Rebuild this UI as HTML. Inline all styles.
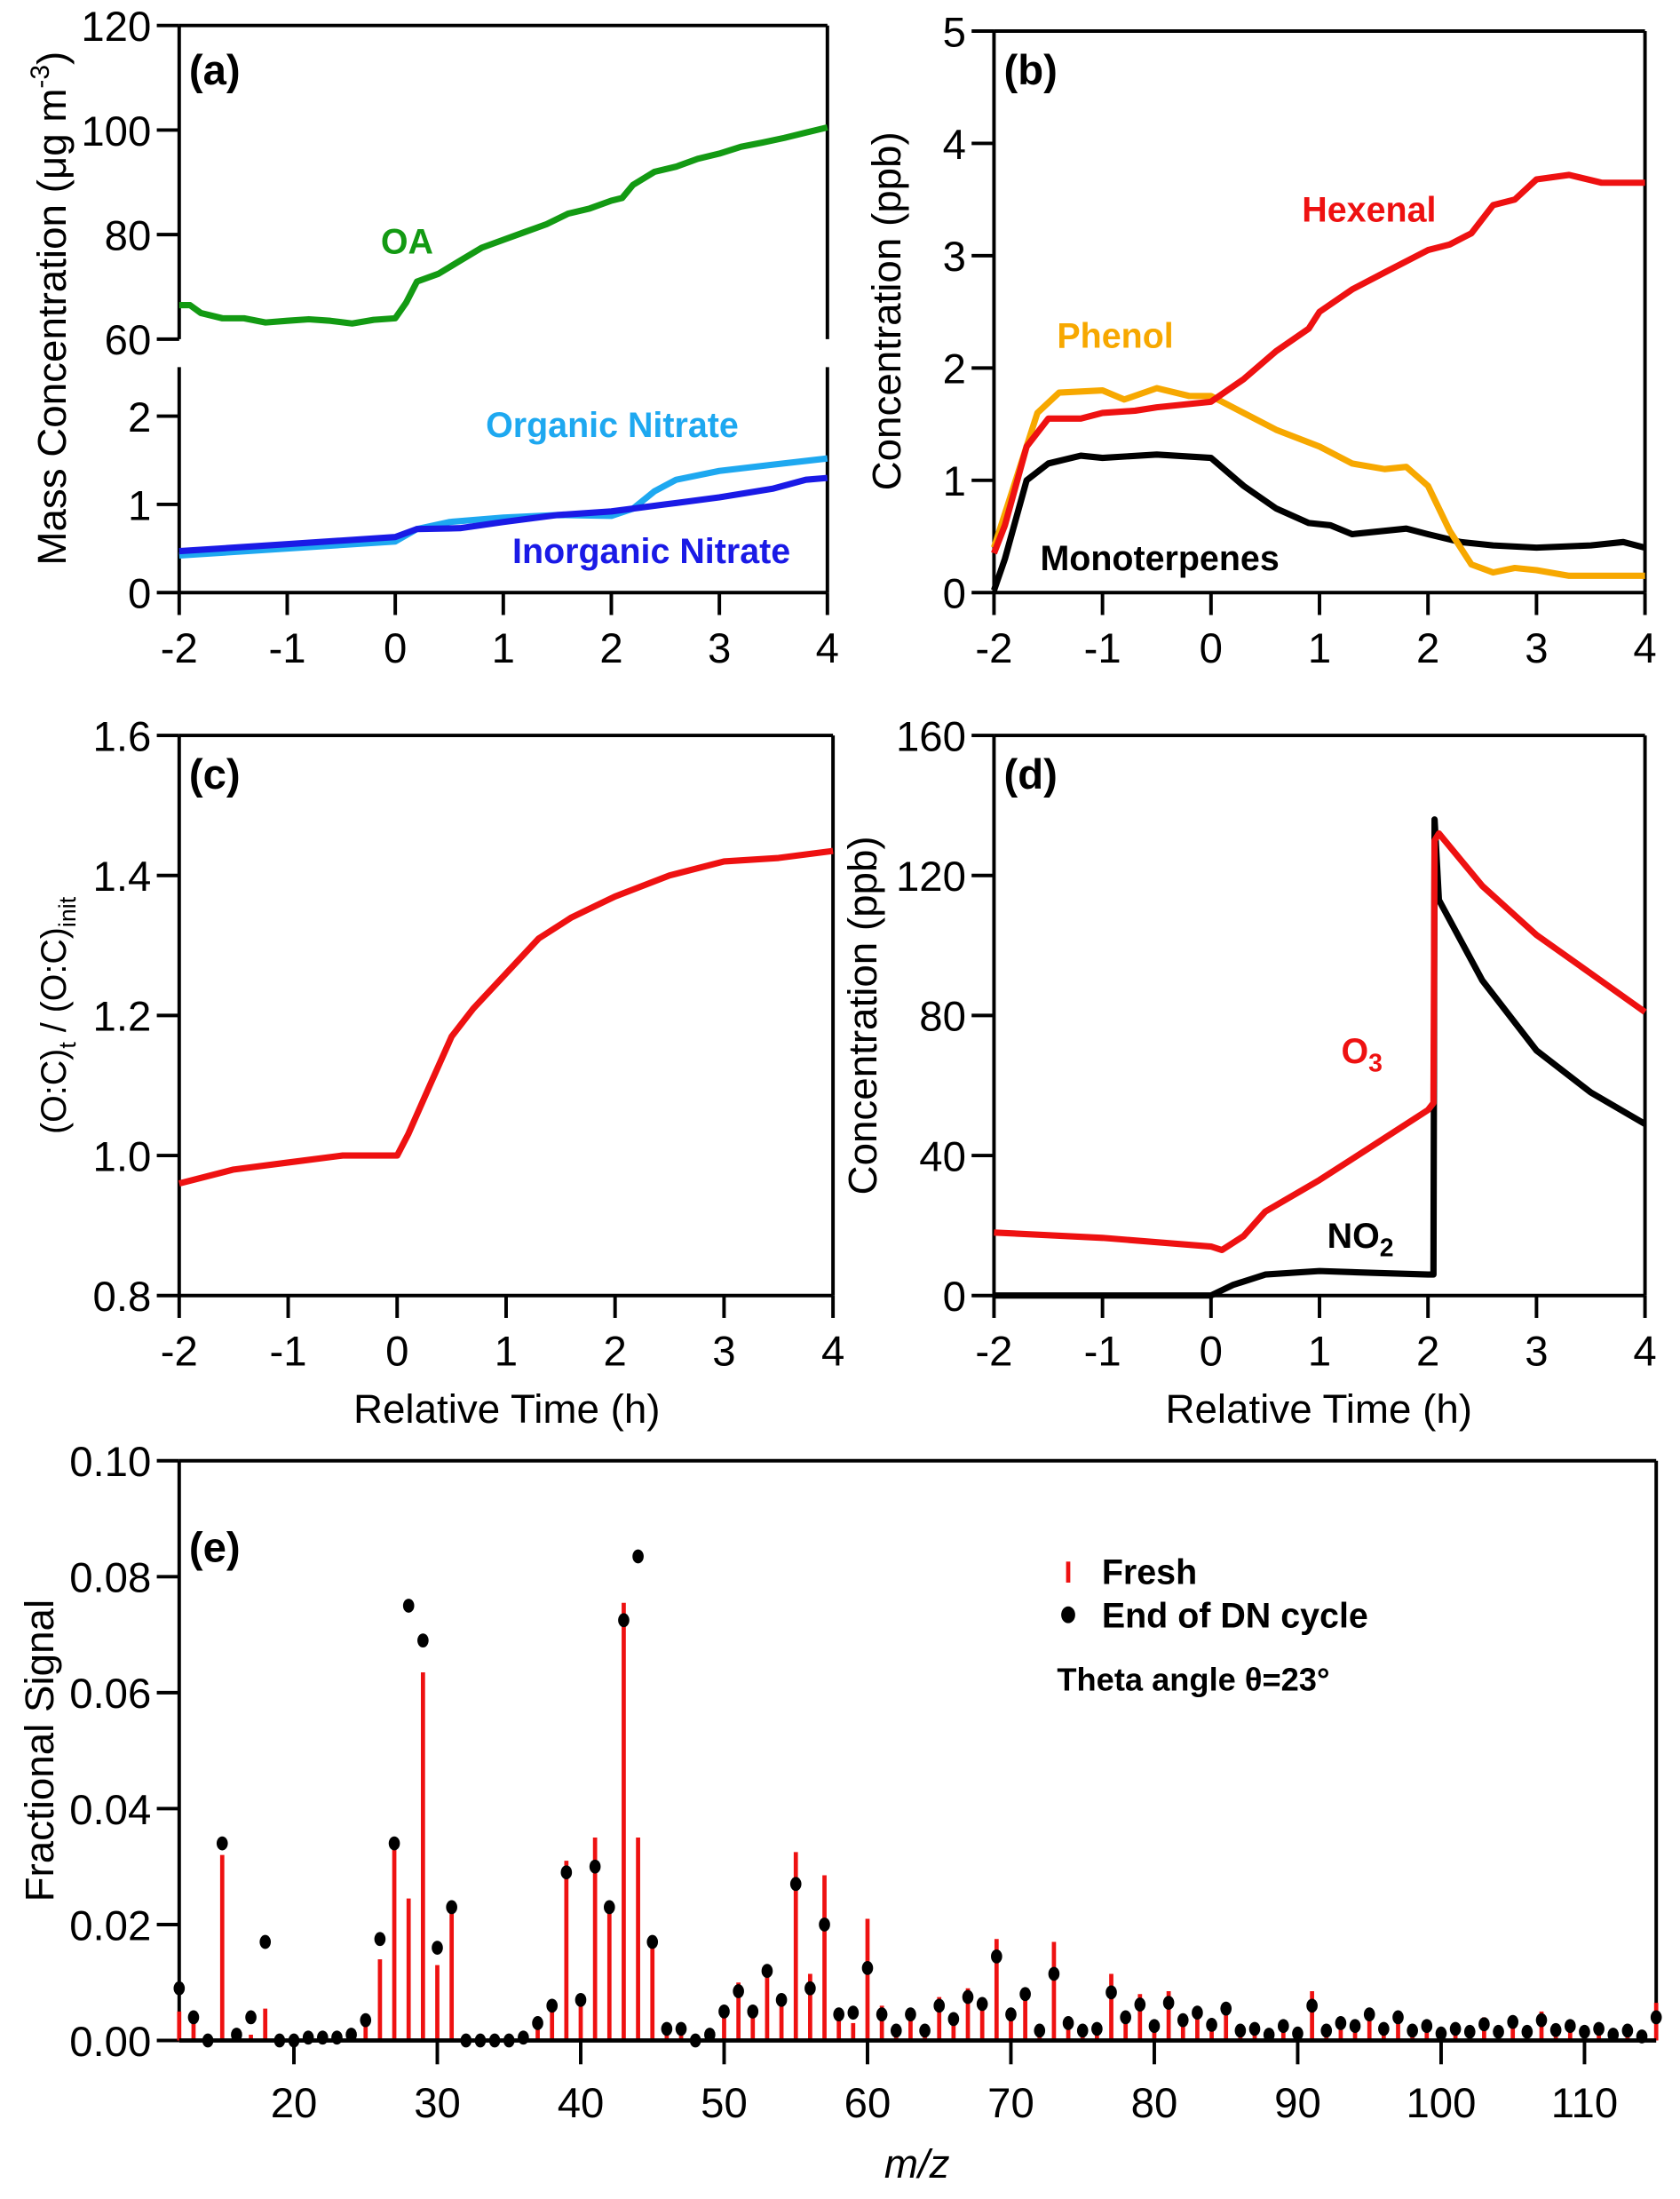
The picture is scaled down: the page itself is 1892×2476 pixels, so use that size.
<!DOCTYPE html>
<html><head><meta charset="utf-8"><style>
html,body{margin:0;padding:0;background:#fff}
svg{display:block}
text{font-family:"Liberation Sans",Arial,sans-serif}
</style></head><body>
<svg id="fig" width="1892" height="2476" viewBox="0 0 1200 1570" xmlns="http://www.w3.org/2000/svg"></svg>
<script>
// ---------- data ----------
const aT=[-2,-1.9,-1.8,-1.6,-1.4,-1.2,-1,-0.8,-0.6,-0.4,-0.2,0,0.1,0.2,0.4,0.6,0.8,1,1.2,1.4,1.6,1.8,2,2.1,2.2,2.4,2.6,2.8,3,3.2,3.4,3.6,3.8,4];
const aOA=[66.5,66.5,65,64,64,63.2,63.5,63.8,63.5,63,63.7,64,67,71,72.5,75,77.5,79,80.5,82,84,85,86.5,87,89.5,92,93,94.5,95.5,96.8,97.6,98.5,99.5,100.5];
const onT=[-2,-1,0,0.2,0.5,1,1.5,2,2.2,2.4,2.6,3,3.5,4];
const onV=[0.42,0.5,0.58,0.72,0.8,0.85,0.88,0.87,0.95,1.15,1.28,1.38,1.45,1.52];
const inT=[-2,-1,0,0.2,0.6,1,1.5,2,2.5,3,3.5,3.8,4];
const inV=[0.47,0.55,0.63,0.72,0.73,0.8,0.88,0.92,1.0,1.08,1.18,1.28,1.3];
const hxT=[-2,-1.9,-1.7,-1.5,-1.2,-1,-0.7,-0.5,0,0.3,0.6,0.9,1,1.3,1.6,2,2.2,2.4,2.6,2.8,3,3.3,3.6,4];
const hxV=[0.35,0.6,1.3,1.55,1.55,1.6,1.62,1.65,1.7,1.9,2.15,2.35,2.5,2.7,2.85,3.05,3.1,3.2,3.45,3.5,3.68,3.72,3.65,3.65];
const phT=[-2,-1.8,-1.6,-1.4,-1,-0.8,-0.5,-0.2,0,0.3,0.6,1,1.3,1.6,1.8,2,2.2,2.4,2.6,2.8,3,3.3,4];
const phV=[0.4,1.0,1.6,1.78,1.8,1.72,1.82,1.75,1.75,1.6,1.45,1.3,1.15,1.1,1.12,0.95,0.55,0.25,0.18,0.22,0.2,0.15,0.15];
const mtT=[-2,-1.9,-1.7,-1.5,-1.2,-1,-0.5,0,0.3,0.6,0.9,1.1,1.3,1.6,1.8,2,2.3,2.6,3,3.5,3.8,4];
const mtV=[0.02,0.3,1.0,1.15,1.22,1.2,1.23,1.2,0.95,0.75,0.62,0.6,0.52,0.55,0.57,0.52,0.45,0.42,0.4,0.42,0.45,0.4];
const ocT=[-2,-1.5,-1,-0.5,0,0.1,0.3,0.5,0.7,1,1.3,1.6,2,2.5,3,3.5,4];
const ocV=[0.96,0.98,0.99,1.0,1.0,1.03,1.1,1.17,1.21,1.26,1.31,1.34,1.37,1.40,1.42,1.425,1.435];
const o3T=[-2,-1,0,0.1,0.3,0.5,1,1.5,2,2.05,2.06,2.1,2.5,3,3.5,4];
const o3V=[18,16.5,14,13,17,24,33,43,53,55,130,132,117,103,92,81];
const n2T=[-2,0,0.2,0.5,1,1.5,2,2.05,2.06,2.1,2.5,3,3.5,4];
const n2V=[0,0,3,6,7,6.5,6,6,136,113,90,70,58,49];
const mz=[];for(let m=12;m<=115;m++)mz.push(m);
const fresh=[0.005,0.004,0,0.032,0,0.001,0.0055,0,0,0,0,0,0,0.003,0.014,0.033,0.0245,0.0635,0.013,0.023,0,0,0,0,0,0.003,0.005,0.031,0.006,0.035,0.022,0.0755,0.035,0.0165,0.001,0.001,0,0,0.005,0.010,0.005,0.012,0.006,0.0325,0.0115,0.0285,0.004,0.003,0.021,0.006,0.002,0.005,0.0015,0.0075,0.003,0.009,0.006,0.0175,0.0055,0.0085,0.0015,0.017,0.004,0.0015,0.002,0.0115,0.005,0.008,0.002,0.0085,0.003,0.004,0.002,0.005,0.0015,0.002,0.0005,0.003,0.001,0.0085,0.0015,0.003,0.002,0.0055,0.002,0.004,0.0015,0.003,0.001,0.002,0.001,0.004,0.001,0.004,0.001,0.005,0.0015,0.002,0.0015,0.002,0.001,0.0015,0.0005,0.0065];
const aged=[0.009,0.004,0,0.034,0.001,0.004,0.017,0,0,0.0005,0.0005,0.0005,0.001,0.0035,0.0175,0.034,0.075,0.069,0.016,0.023,0,0,0,0,0.0005,0.003,0.006,0.029,0.007,0.030,0.023,0.0725,0.0835,0.017,0.002,0.002,0,0.001,0.005,0.0085,0.005,0.012,0.007,0.027,0.009,0.020,0.0045,0.0048,0.0125,0.0045,0.0017,0.0045,0.0017,0.006,0.0037,0.0075,0.0063,0.0145,0.0045,0.008,0.0017,0.0115,0.003,0.0017,0.002,0.0083,0.004,0.0062,0.0025,0.0065,0.0035,0.0048,0.0027,0.0055,0.0017,0.002,0.001,0.0025,0.0012,0.006,0.0017,0.003,0.0025,0.0045,0.002,0.004,0.0017,0.0025,0.0012,0.002,0.0015,0.0028,0.0015,0.0032,0.0015,0.0035,0.0018,0.0025,0.0015,0.002,0.001,0.0017,0.0007,0.004];
// ---------- helpers ----------
const S=document.getElementById('fig');const NS='http://www.w3.org/2000/svg';
function el(t,at,txt){const e=document.createElementNS(NS,t);for(const k in at)e.setAttribute(k,at[k]);if(txt!==undefined)e.textContent=txt;S.appendChild(e);return e;}
function lin(d0,d1,r0,r1){return v=>r0+(v-d0)/(d1-d0)*(r1-r0);}
function line(x1,y1,x2,y2,w,name){const e=el('line',{x1,y1,x2,y2,stroke:'#000','stroke-width':w||2.5});

return e;}
function txt(x,y,s,opt,name){const e=el('text',Object.assign({x,y,'font-size':30,fill:'#000'},opt||{}),s);

return e;}
function series(T,V,xs,ys,col,name,w){let d='';T.forEach((t,i)=>{d+=(i?'L':'M')+xs(t).toFixed(1)+','+ys(V[i]).toFixed(1);});
const e=el('path',{d,fill:'none',stroke:col,'stroke-width':w||4.5,'stroke-linejoin':'round'});

}
function xticks(xs,y,vals,lbl){vals.forEach(v=>{line(xs(v),y,xs(v),y+16,2.5,'x-tick');if(lbl)txt(xs(v),y+50,String(v),{'text-anchor':'middle'},'x-tick-label');});}
function yticks(ys,x,vals,fmt){vals.forEach(v=>{line(x-16,ys(v),x,ys(v),2.5,'y-tick');txt(x-20,ys(v)+11,fmt?fmt(v):String(v),{'text-anchor':'end'},'y-tick-label');});}
// ---------- panel a ----------
{const xs=lin(-2,4,128,591);const yu=lin(60,120,242,18);const yl=lin(0,2,423,297);
line(128,18,591,18);line(128,18,128,242);line(591,18,591,242);
line(128,262,128,423);line(591,262,591,423);line(128,423,591,423);
yticks(yu,128,[60,80,100,120]);yticks(yl,128,[0,1,2]);xticks(xs,423,[-2,-1,0,1,2,3,4],true);
series(aT,aOA,xs,yu,'#139a13','oa-line');
series(onT,onV,xs,yl,'#1ea8f0','organic-nitrate-line');
series(inT,inV,xs,yl,'#1a1ae6','inorganic-nitrate-line');
txt(135,60,'(a)',{'font-weight':'bold'},'panel-a-label');
txt(272,181,'OA',{'font-weight':'bold',fill:'#139a13','font-size':25},'oa-label');
txt(347,312,'Organic Nitrate',{'font-weight':'bold',fill:'#1ea8f0','font-size':25},'organic-nitrate-label');
txt(366,402,'Inorganic Nitrate',{'font-weight':'bold',fill:'#1a1ae6','font-size':25},'inorganic-nitrate-label');
const t=txt(0,0,'',{transform:'translate(47,220) rotate(-90)','text-anchor':'middle','font-size':29},'y-axis-title-a');
t.innerHTML='Mass Concentration (μg m<tspan dy="-12" font-size="19">-3</tspan><tspan dy="12">)</tspan>';}
// ---------- panel b ----------
{const xs=lin(-2,4,710,1175);const ys=lin(0,5,423,22);
line(710,22,1175,22);line(710,22,710,423);line(1175,22,1175,423);line(710,423,1175,423);
yticks(ys,710,[0,1,2,3,4,5]);xticks(xs,423,[-2,-1,0,1,2,3,4],true);
series(mtT,mtV,xs,ys,'#000','monoterpenes-line');
series(phT,phV,xs,ys,'#f7a800','phenol-line');
series(hxT,hxV,xs,ys,'#ee1111','hexenal-line');
txt(717,60,'(b)',{'font-weight':'bold'},'panel-b-label');
txt(930,158,'Hexenal',{'font-weight':'bold',fill:'#ee1111','font-size':25},'hexenal-label');
txt(755,248,'Phenol',{'font-weight':'bold',fill:'#f7a800','font-size':25},'phenol-label');
txt(743,407,'Monoterpenes',{'font-weight':'bold','font-size':25},'monoterpenes-label');
txt(0,0,'Concentration (ppb)',{transform:'translate(643,222) rotate(-90)','text-anchor':'middle','font-size':29},'y-axis-title-b');}
// ---------- panel c ----------
{const xs=lin(-2,4,128,595);const ys=lin(0.8,1.6,925,525);
line(128,525,595,525);line(128,525,128,925);line(595,525,595,925);line(128,925,595,925);
yticks(ys,128,[0.8,1.0,1.2,1.4,1.6],v=>v.toFixed(1));xticks(xs,925,[-2,-1,0,1,2,3,4],true);
series(ocT,ocV,xs,ys,'#ee1111','oc-ratio-line');
txt(135,563,'(c)',{'font-weight':'bold'},'panel-c-label');
txt(362,1016,'Relative Time (h)',{'text-anchor':'middle','font-size':29},'x-axis-title-c');
const t=txt(0,0,'',{transform:'translate(47,725) rotate(-90)','text-anchor':'middle','font-size':25},'y-axis-title-c');
t.innerHTML='(O:C)<tspan dy="7" font-size="17">t</tspan><tspan dy="-7"> / (O:C)</tspan><tspan dy="7" font-size="17">init</tspan>';}
// ---------- panel d ----------
{const xs=lin(-2,4,710,1175);const ys=lin(0,160,925,525);
line(710,525,1175,525);line(710,525,710,925);line(1175,525,1175,925);line(710,925,1175,925);
yticks(ys,710,[0,40,80,120,160]);xticks(xs,925,[-2,-1,0,1,2,3,4],true);
series(n2T,n2V,xs,ys,'#000','no2-line');
series(o3T,o3V,xs,ys,'#ee1111','o3-line');
txt(717,563,'(d)',{'font-weight':'bold'},'panel-d-label');
const o=txt(958,759,'',{'font-weight':'bold',fill:'#ee1111','font-size':25},'o3-label');o.innerHTML='O<tspan dy="6" font-size="18">3</tspan>';
const n=txt(948,891,'',{'font-weight':'bold','font-size':25},'no2-label');n.innerHTML='NO<tspan dy="6" font-size="18">2</tspan>';
txt(942,1016,'Relative Time (h)',{'text-anchor':'middle','font-size':29},'x-axis-title-d');
txt(0,0,'Concentration (ppb)',{transform:'translate(626,725) rotate(-90)','text-anchor':'middle','font-size':29},'y-axis-title-d');}
// ---------- panel e ----------
{const xs=lin(12,115,128,1183);const ys=lin(0,0.10,1457,1043);
line(128,1043,1183,1043);line(128,1043,128,1457);line(1183,1043,1183,1457);
yticks(ys,128,[0,0.02,0.04,0.06,0.08,0.10],v=>v.toFixed(2));
[20,30,40,50,60,70,80,90,100,110].forEach(v=>{line(xs(v),1457,xs(v),1474,2.5,'x-tick');txt(xs(v),1512,String(v),{'text-anchor':'middle'},'x-tick-label');});
mz.forEach((m,i)=>{if(fresh[i]>0){const b=el('line',{x1:xs(m),x2:xs(m),y1:ys(0),y2:ys(fresh[i]),stroke:'#ee1111','stroke-width':3});

}});
line(128,1457,1183,1457,3,'x-axis-line');
mz.forEach((m,i)=>{const c=el('ellipse',{cx:xs(m),cy:ys(aged[i]),rx:4,ry:5,fill:'#000'});

});
txt(135,1115,'(e)',{'font-weight':'bold'},'panel-e-label');
const lt=el('line',{x1:763,x2:763,y1:1115,y2:1130,stroke:'#ee1111','stroke-width':3});


txt(787,1131,'Fresh',{'font-weight':'bold','font-size':25},'legend-fresh');
const ld=el('ellipse',{cx:763,cy:1153,rx:5,ry:6,fill:'#000'});


txt(787,1162,'End of DN cycle',{'font-weight':'bold','font-size':25},'legend-aged');
txt(755,1207,'Theta angle θ=23°',{'font-weight':'bold','font-size':23},'theta-annotation');
txt(0,0,'Fractional Signal',{transform:'translate(38,1250) rotate(-90)','text-anchor':'middle','font-size':29},'y-axis-title-e');
txt(655,1555,'m/z',{'text-anchor':'middle','font-style':'italic','font-size':29},'x-axis-title-e');}
</script>
</body></html>
